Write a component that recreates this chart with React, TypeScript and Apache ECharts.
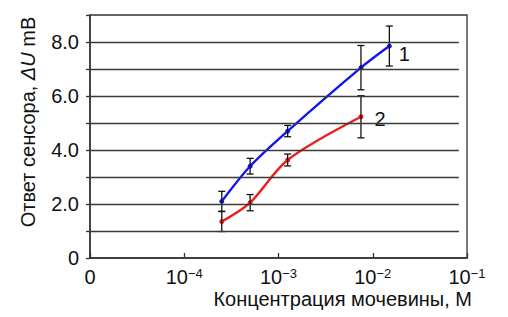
import React, { useEffect, useRef } from "react";
import * as echarts from "echarts";

// Data
const concentrations1 = [2.5e-4, 5e-4, 1.25e-3, 7.5e-3, 1.5e-2];
const response1 = [2.1, 3.4, 4.7, 7.05, 7.85];
const error1 = [0.37, 0.29, 0.21, 0.82, 0.74];
const concentrations2 = [2.5e-4, 5e-4, 1.25e-3, 7.5e-3];
const response2 = [1.35, 2.05, 3.63, 5.23];
const error2 = [0.37, 0.3, 0.22, 0.78];
const seriesNames = ["1", "2"];
const gridLevels = [1, 2, 3, 4, 5, 6, 7, 8];
const xTitle = "Концентрация мочевины, М";
const yTitle = "Ответ сенсора, {i|ΔU} mB";

const FONT = "Liberation Sans, Arial, sans-serif";
const xMin = 1e-5;
const xMax = 1e-1;
const gridEndX = 0.082;

export default function App() {
  const ref = useRef<HTMLDivElement>(null);
  useEffect(() => {
    if (!ref.current) return;
    const chart = echarts.init(ref.current, null, { renderer: "svg" });
    const pts1 = concentrations1.map((c, i) => [c, response1[i]]);
    const pts2 = concentrations2.map((c, i) => [c, response2[i]]);
    const err1 = concentrations1.map((c, i) => [c, response1[i], error1[i]]);
    const err2 = concentrations2.map((c, i) => [c, response2[i], error2[i]]);
    const errRender = (params: any, api: any) => {
      const x = api.value(0);
      const y = api.value(1);
      const e = api.value(2);
      const top = api.coord([x, y + e]);
      const bot = api.coord([x, y - e]);
      const w = 3.5;
      const st = { stroke: "#111", lineWidth: 1.3 };
      return {
        type: "group",
        children: [
          { type: "line", shape: { x1: top[0], y1: top[1], x2: bot[0], y2: bot[1] }, style: st },
          { type: "line", shape: { x1: top[0] - w, y1: top[1], x2: top[0] + w, y2: top[1] }, style: st },
          { type: "line", shape: { x1: bot[0] - w, y1: bot[1], x2: bot[0] + w, y2: bot[1] }, style: st },
        ],
      };
    };
    const lastLabel = (arr: number[][], name: string, offset: number[]) =>
      arr.map((p, i) =>
        i === arr.length - 1
          ? {
              value: p,
              label: {
                show: true,
                formatter: name,
                position: "right",
                offset,
                color: "#111",
                fontSize: 20,
                fontFamily: FONT,
              },
            }
          : { value: p }
      );
    chart.setOption({
      animation: false,
      backgroundColor: "#fff",
      grid: {
        left: 90,
        top: 15,
        right: 41,
        bottom: 59,
        show: true,
        borderColor: "#333",
        borderWidth: 1.3,
      },
      xAxis: {
        type: "log",
        logBase: 10,
        min: xMin,
        max: xMax,
        splitLine: { show: false },
        minorTick: { show: false },
        axisLine: { lineStyle: { color: "#333", width: 1.5 } },
        axisTick: { show: true, inside: true, length: 5, lineStyle: { color: "#333", width: 1.3 } },
        axisLabel: {
          margin: 9,
          color: "#111",
          fontFamily: FONT,
          formatter: (v: number) => {
            if (v <= xMin * 1.0001) return "{b|0}";
            const p = Math.round(Math.log10(v));
            return "{b|10}{s|−" + Math.abs(p) + "}";
          },
          rich: {
            b: { fontSize: 20, fontFamily: FONT, color: "#111", lineHeight: 20, verticalAlign: "bottom" },
            s: { fontSize: 13, fontFamily: FONT, color: "#111", verticalAlign: "top", lineHeight: 8 },
          },
        },
      },
      yAxis: {
        type: "value",
        min: 0,
        max: 9,
        interval: 1,
        splitLine: { show: false },
        axisLine: { show: true, lineStyle: { color: "#333", width: 1.5 } },
        axisTick: { show: true, inside: false, length: 4, lineStyle: { color: "#333", width: 1.3 } },
        axisLabel: {
          margin: 11,
          color: "#111",
          fontSize: 20,
          fontFamily: FONT,
          formatter: (v: number) => (v === 0 ? "0" : v % 2 === 0 && v < 9 ? v.toFixed(1) : ""),
        },
      },
      graphic: [
        {
          type: "text",
          x: 28,
          y: 122,
          rotation: Math.PI / 2,
          style: {
            text: yTitle,
            fontSize: 20,
            fontFamily: FONT,
            fill: "#111",
            align: "center",
            verticalAlign: "middle",
            rich: { i: { fontStyle: "italic", fontSize: 20, fontFamily: FONT, fill: "#111" } },
          },
        },
        {
          type: "text",
          x: 472,
          y: 299,
          style: {
            text: xTitle,
            fontSize: 20,
            fontFamily: FONT,
            fill: "#111",
            align: "right",
            verticalAlign: "middle",
          },
        },
      ],
      series: [
        {
          type: "line",
          name: "gridlines",
          data: [],
          silent: true,
          markLine: {
            silent: true,
            symbol: "none",
            label: { show: false },
            lineStyle: { color: "#3a3a3a", width: 1.4, type: "solid" },
            data: gridLevels.map((g) => [
              { coord: [xMin, g] },
              { coord: [gridEndX, g] },
            ]),
          },
        },
        {
          type: "line",
          name: seriesNames[0],
          data: lastLabel(pts1, seriesNames[0], [2, 8]),
          smooth: 0.3,
          symbol: "circle",
          symbolSize: 5,
          lineStyle: { color: "#1414f0", width: 2.4 },
          itemStyle: { color: "#1414f0" },
          z: 3,
        },
        {
          type: "line",
          name: seriesNames[1],
          data: lastLabel(pts2, seriesNames[1], [6, 2]),
          smooth: 0.3,
          symbol: "circle",
          symbolSize: 5,
          lineStyle: { color: "#ee1c1c", width: 2.4 },
          itemStyle: { color: "#ee1c1c" },
          z: 3,
        },
        { type: "custom", data: err1, renderItem: errRender, z: 4, silent: true },
        { type: "custom", data: err2, renderItem: errRender, z: 4, silent: true },
      ],
    });
    return () => chart.dispose();
  }, []);
  return <div ref={ref} style={{ width: 508, height: 317, position: "absolute", left: 0, top: 0 }} />;
}
